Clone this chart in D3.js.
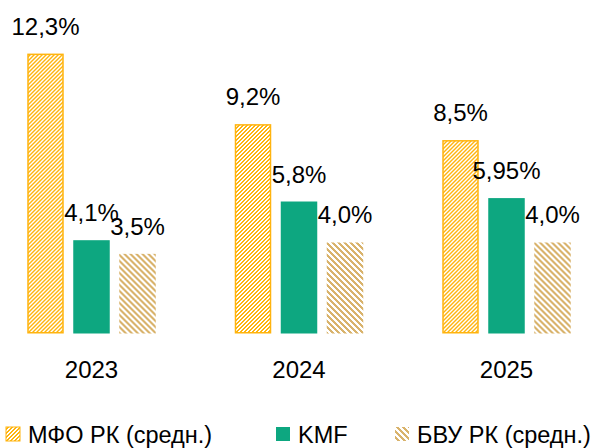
<!DOCTYPE html>
<html><head><meta charset="utf-8">
<script src="https://cdn.jsdelivr.net/npm/d3@7"></script>
<style>html,body{margin:0;padding:0;background:#fff;}svg{display:block;}</style>
</head><body>
<svg id="chart" width="602" height="448"></svg>
<script>
const categories = ["2023", "2024", "2025"];
const seriesNames = ["МФО РК (средн.)", "KMF", "БВУ РК (средн.)"];
const mfo = [12.3, 9.2, 8.5];
const kmf = [4.1, 5.8, 5.95];
const bvu = [3.5, 4.0, 4.0];
const mfoLabels = ["12,3%", "9,2%", "8,5%"];
const kmfLabels = ["4,1%", "5,8%", "5,95%"];
const bvuLabels = ["3,5%", "4,0%", "4,0%"];

const series = [
  {name: seriesNames[0], values: mfo, labels: mfoLabels, key: "mfo"},
  {name: seriesNames[1], values: kmf, labels: kmfLabels, key: "kmf"},
  {name: seriesNames[2], values: bvu, labels: bvuLabels, key: "bvu"}
];

const svg = d3.select("#chart");
const font = "'Liberation Sans', Arial, sans-serif";
const orange = "#FFB40F", tan = "#D9B36C", teal = "#0DA780";

const defs = svg.append("defs");
// MFO: upward diagonal "/" stripes, 4px period
const p1 = defs.append("pattern").attr("id", "pMfo").attr("patternUnits", "userSpaceOnUse")
  .attr("width", 4).attr("height", 4);
p1.append("rect").attr("width", 4).attr("height", 4).attr("fill", "#fff");
for (let x = 0; x < 4; x++) for (let y = 0; y < 4; y++) {
  if ((x + y) % 4 < 2) p1.append("rect").attr("x", x).attr("y", y).attr("width", 1).attr("height", 1)
    .attr("fill", orange).attr("shape-rendering", "crispEdges");
}
// BVU: downward diagonal "\" stripes, 6px period
const p2 = defs.append("pattern").attr("id", "pBvu").attr("patternUnits", "userSpaceOnUse")
  .attr("width", 6).attr("height", 6);
p2.append("rect").attr("width", 6).attr("height", 6).attr("fill", "#fff");
for (let x = 0; x < 6; x++) for (let y = 0; y < 6; y++) {
  if (((x - y) % 6 + 6) % 6 < 3) p2.append("rect").attr("x", x).attr("y", y).attr("width", 1).attr("height", 1)
    .attr("fill", tan).attr("shape-rendering", "crispEdges");
}

const fills = {mfo: "url(#pMfo)", kmf: teal, bvu: "url(#pBvu)"};

const x0 = d3.scaleBand().domain(categories).range([-12.25, 610.25]).padding(0);
const x1 = d3.scaleBand().domain(series.map(s => s.key)).range([-64.25, 64.25]).paddingInner(0.2065).paddingOuter(0);
const y = d3.scaleLinear().domain([0, 14]).range([333.5, 14.9]);

const groups = svg.selectAll("g.cat").data(categories).join("g")
  .attr("class", "cat")
  .attr("transform", d => `translate(${x0(d) + x0.bandwidth() / 2},0)`);

groups.each(function(cat, ci) {
  const g = d3.select(this);
  series.forEach(s => {
    const v = s.values[ci];
    const bx = x1(s.key), bw = x1.bandwidth();
    const r = g.append("rect")
      .attr("x", bx).attr("y", y(v))
      .attr("width", bw).attr("height", y(0) - y(v))
      .attr("fill", fills[s.key]);
    if (s.key === "mfo") r.attr("stroke", orange).attr("stroke-width", 1.5)
      .attr("x", bx + 0.75).attr("width", bw - 1.5).attr("y", y(v) + 0.75).attr("height", y(0) - y(v) - 1.5);
    g.append("text")
      .attr("x", bx + bw / 2).attr("y", y(v) - 19)
      .attr("text-anchor", "middle")
      .attr("font-family", font).attr("font-size", 24).attr("fill", "#000")
      .text(s.labels[ci]);
  });
  g.append("text")
    .attr("x", 0).attr("y", 378)
    .attr("text-anchor", "middle")
    .attr("font-family", font).attr("font-size", 24).attr("fill", "#000")
    .text(cat);
});

// Legend
const legendX = [6, 276, 395];
const leg = svg.append("g").attr("class", "legend");
series.forEach((s, i) => {
  const lg = leg.append("g").attr("transform", `translate(${legendX[i]},0)`);
  lg.append("rect").attr("x", 0).attr("y", 427).attr("width", 14).attr("height", 14)
    .attr("fill", fills[s.key])
    .attr("stroke", s.key === "mfo" ? orange : "none").attr("stroke-width", 1);
  lg.append("text").attr("x", 22).attr("y", 442.5)
    .attr("font-family", font).attr("font-size", 23.5).attr("fill", "#000")
    .text(s.name);
});
</script>
</body></html>
